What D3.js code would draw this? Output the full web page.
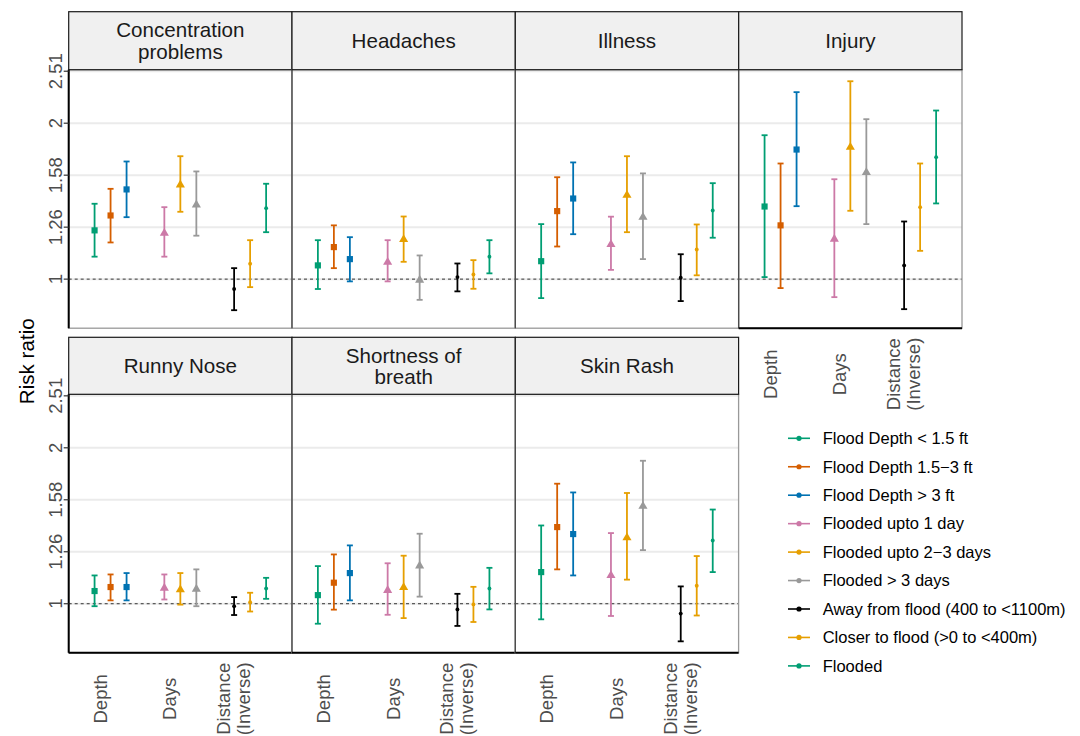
<!DOCTYPE html>
<html>
<head>
<meta charset="utf-8">
<title>risk ratio facets</title>
<script src="https://cdn.jsdelivr.net/npm/d3@7"></script>
</head>
<body style="margin: 0; background: #fff;">
<svg width="1080" height="736"></svg>
<script>
// facets, x categories and legend entries
const symptoms = ["Concentration\nproblems", "Headaches", "Illness", "Injury",
                  "Runny Nose", "Shortness of\nbreath", "Skin Rash"];
const exposures = ["Depth", "Days", "Distance\n(Inverse)"];
const levels = ["Flood Depth < 1.5 ft", "Flood Depth 1.5\u22123 ft", "Flood Depth > 3 ft",
                "Flooded upto 1 day", "Flooded upto 2\u22123 days", "Flooded > 3 days",
                "Away from flood (400 to <1100m)", "Closer to flood (>0 to <400m)", "Flooded"];
const levelExposure = [0, 0, 0, 1, 1, 1, 2, 2, 2];
const levelColors = ["#009E73", "#D55E00", "#0072B2", "#CC79A7", "#E69F00", "#999999",
                     "#000000", "#E69F00", "#009E73"];

// [risk ratio, lower, upper] for each level, one array per symptom
const rrConcentration = [[1.242, 1.105, 1.398], [1.327, 1.177, 1.494], [1.490, 1.317, 1.687],
                         [1.232, 1.105, 1.377], [1.528, 1.349, 1.727], [1.398, 1.213, 1.614],
                         [0.957, 0.871, 1.050], [1.071, 0.965, 1.189], [1.371, 1.232, 1.528]];
const rrHeadaches = [[1.063, 0.957, 1.189], [1.153, 1.050, 1.270], [1.093, 0.990, 1.205],
                     [1.083, 0.990, 1.189], [1.198, 1.080, 1.321], [1.000, 0.912, 1.111],
                     [1.009, 0.947, 1.072], [1.021, 0.958, 1.088], [1.105, 1.026, 1.189]];
const rrIllness = [[1.083, 0.919, 1.277], [1.353, 1.156, 1.573], [1.431, 1.221, 1.680],
                   [1.172, 1.042, 1.320], [1.459, 1.232, 1.727], [1.323, 1.093, 1.600],
                   [1.006, 0.907, 1.117], [1.141, 1.017, 1.275], [1.357, 1.202, 1.532]];
const rrInjury = [[1.381, 1.009, 1.896], [1.270, 0.961, 1.672], [1.779, 1.383, 2.296],
                  [1.200, 0.923, 1.559], [1.806, 1.355, 2.410], [1.614, 1.277, 2.036],
                  [1.063, 0.875, 1.292], [1.377, 1.134, 1.672], [1.720, 1.400, 2.116]];
const rrRunnyNose = [[1.058, 0.989, 1.134], [1.077, 1.015, 1.139], [1.077, 1.015, 1.146],
                     [1.077, 1.019, 1.139], [1.069, 0.996, 1.146], [1.072, 0.989, 1.165],
                     [0.989, 0.951, 1.030], [1.007, 0.966, 1.050], [1.070, 1.022, 1.122]];
const rrBreath = [[1.039, 0.915, 1.182], [1.098, 0.974, 1.245], [1.146, 1.015, 1.296],
                  [1.066, 0.952, 1.197], [1.080, 0.938, 1.238], [1.189, 1.032, 1.365],
                  [0.975, 0.906, 1.045], [0.997, 0.922, 1.078], [1.070, 0.975, 1.173]];
const rrSkinRash = [[1.151, 0.933, 1.416], [1.406, 1.165, 1.705], [1.363, 1.134, 1.640],
                    [1.139, 0.947, 1.369], [1.347, 1.113, 1.636], [1.550, 1.269, 1.888],
                    [0.957, 0.846, 1.080], [1.083, 0.949, 1.236], [1.325, 1.151, 1.520]];
const rrBySymptom = [rrConcentration, rrHeadaches, rrIllness, rrInjury,
                     rrRunnyNose, rrBreath, rrSkinRash];

const yTicks = [1, 1.2599, 1.5874, 2, 2.5198];
const yTickLabels = ["1", "1.26", "1.58", "2", "2.51"];

const font = "'Liberation Sans', Arial, sans-serif";
const svg = d3.select("svg");

const colX = [68.7, 292, 515.3, 738.7];
const panelW = 223.3;
const rowStripTop = [11.7, 337.3];
const rowPanelTop = [69.7, 394.3];
const panelH = 258.5;

const shapeOf = [d3.symbolSquare, d3.symbolTriangle, d3.symbolCircle];
const sizeOf = [38, 36, 12];

symptoms.forEach((name, si) => {
    const row = si < 4 ? 0 : 1;
    const col = si < 4 ? si : si - 4;
    const x0 = colX[col];
    const top = rowPanelTop[row];
    const bottom = top + panelH;

    const y = d3.scaleLog().base(2).domain([0.804, 2.537]).range([bottom, top]);
    const x = d3.scalePoint().domain(exposures).range([x0, x0 + panelW]).padding(0.6);
    const dodge = d3.scalePoint().domain([0, 1, 2]).range([-16, 16]);

    const g = svg.append("g");
    g.append("rect")
        .attr("x", x0).attr("y", top).attr("width", panelW).attr("height", panelH)
        .attr("fill", "#fff");

    g.selectAll("line.grid").data(yTicks).join("line")
        .attr("class", "grid")
        .attr("x1", x0).attr("x2", x0 + panelW)
        .attr("y1", d => y(d)).attr("y2", d => y(d))
        .attr("stroke", "#ebebeb").attr("stroke-width", 2);
    g.append("line")
        .attr("x1", x0).attr("x2", x0 + panelW)
        .attr("y1", y(1)).attr("y2", y(1))
        .attr("stroke", "#333").attr("stroke-width", 1)
        .attr("stroke-dasharray", "3,3");

    const rows = rrBySymptom[si].map((v, i) => ({
        i: i, est: v[0], lo: v[1], hi: v[2],
        cx: x(exposures[levelExposure[i]]) + dodge(i % 3),
        color: levelColors[i], ex: levelExposure[i]
    }));

    const bar = g.selectAll("g.bar").data(rows).join("g").attr("class", "bar")
        .attr("stroke", d => d.color).attr("stroke-width", 1.8);
    bar.append("line")
        .attr("x1", d => d.cx).attr("x2", d => d.cx)
        .attr("y1", d => y(d.lo)).attr("y2", d => y(d.hi));
    bar.append("line")
        .attr("x1", d => d.cx - 3).attr("x2", d => d.cx + 3)
        .attr("y1", d => y(d.lo)).attr("y2", d => y(d.lo));
    bar.append("line")
        .attr("x1", d => d.cx - 3).attr("x2", d => d.cx + 3)
        .attr("y1", d => y(d.hi)).attr("y2", d => y(d.hi));

    g.selectAll("path.pt").data(rows).join("path")
        .attr("class", "pt")
        .attr("d", d => d3.symbol(shapeOf[d.ex], sizeOf[d.ex])())
        .attr("transform", d => `translate(${d.cx},${y(d.est) + (d.ex == 1 ? 1 : 0)})`)
        .attr("fill", d => d.color);

    // panel border
    g.append("rect")
        .attr("x", x0).attr("y", top).attr("width", panelW).attr("height", panelH)
        .attr("fill", "none").attr("stroke", "#999").attr("stroke-width", 1.3);
    if (col > 0) {
        g.append("line")
            .attr("x1", x0).attr("x2", x0).attr("y1", top).attr("y2", bottom)
            .attr("stroke", "#444").attr("stroke-width", 1.2);
    }

    // strip
    const st = rowStripTop[row];
    g.append("rect")
        .attr("x", x0).attr("y", st).attr("width", panelW).attr("height", top - st)
        .attr("fill", "#f0f0f0").attr("stroke", "#1a1a1a").attr("stroke-width", 1.2);
    const lines = name.split("\n");
    const stxt = g.append("text")
        .attr("transform", `translate(${x0 + panelW / 2},${(st + top) / 2 + 7.5 - (lines.length - 1) * 10.8})`)
        .attr("text-anchor", "middle")
        .attr("font-family", font).attr("font-size", 20.6).attr("fill", "#1a1a1a");
    lines.forEach((l, i) => stxt.append("tspan").attr("x", 0).attr("y", i * 21.6).text(l));

    // left axis
    if (col == 0) {
        g.append("line")
            .attr("x1", x0).attr("x2", x0).attr("y1", top).attr("y2", bottom)
            .attr("stroke", "#000").attr("stroke-width", 2);
        yTicks.forEach((t, k) => {
            g.append("line")
                .attr("x1", x0 - 5).attr("x2", x0).attr("y1", y(t)).attr("y2", y(t))
                .attr("stroke", "#333").attr("stroke-width", 1.2);
            g.append("text")
                .attr("transform", `translate(${x0 - 7},${y(t)}) rotate(-90)`)
                .attr("text-anchor", "middle")
                .attr("font-family", font).attr("font-size", 18.5).attr("fill", "#4d4d4d")
                .text(yTickLabels[k]);
        });
    }

    // bottom axis with labels
    if (row == 1 || si == 3) {
        g.append("line")
            .attr("x1", x0).attr("x2", x0 + panelW).attr("y1", bottom).attr("y2", bottom)
            .attr("stroke", "#000").attr("stroke-width", 2);
        exposures.forEach(e => {
            const el = e.split("\n");
            const t = g.append("text")
                .attr("transform", `translate(${x(e) - (el.length == 1 ? 4 : 0)},${bottom + 46}) rotate(-90)`)
                .attr("text-anchor", "middle")
                .attr("font-family", font).attr("font-size", 18.5).attr("fill", "#4d4d4d");
            el.forEach((l, i) => {
                t.append("tspan").attr("x", 0).attr("y", -(el.length - 1 - i) * 20).text(l);
            });
        });
    }
});

// y axis title
svg.append("text")
    .attr("transform", `translate(34,${(rowPanelTop[0] + rowPanelTop[1] + panelH) / 2}) rotate(-90)`)
    .attr("text-anchor", "middle")
    .attr("font-family", font).attr("font-size", 20.6).attr("fill", "#000")
    .text("Risk ratio");

// legend
const legend = svg.append("g").attr("transform", "translate(788,438.3)");
const item = legend.selectAll("g").data(levels).join("g")
    .attr("transform", (d, i) => `translate(0,${i * 28.45})`);
item.append("line")
    .attr("x1", 0).attr("x2", 22).attr("y1", 0).attr("y2", 0)
    .attr("stroke", (d, i) => levelColors[i]).attr("stroke-width", 1.6);
item.append("circle")
    .attr("cx", 11).attr("cy", 0).attr("r", 2.6)
    .attr("fill", (d, i) => levelColors[i]);
item.append("text")
    .attr("x", 34.7).attr("y", 5.8)
    .attr("font-family", font).attr("font-size", 16.5).attr("fill", "#000")
    .text(d => d);
</script>
</body>
</html>
